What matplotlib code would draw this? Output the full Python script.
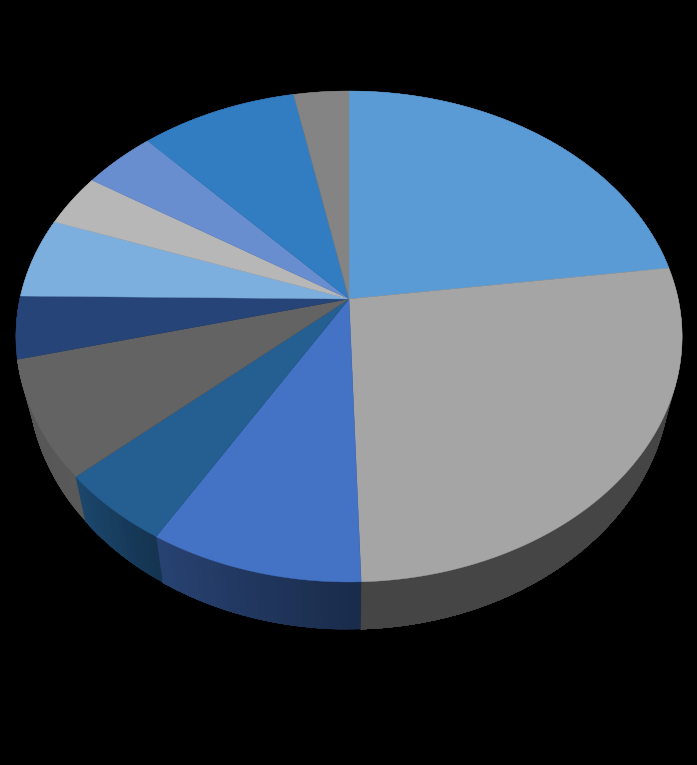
import numpy as np
import matplotlib
matplotlib.use("Agg")
import matplotlib.pyplot as plt
from matplotlib.colors import to_rgb

# Slice shares (percent), clockwise from 12 o'clock
shares = [22.9, 26.6, 9.0, 4.9, 7.7, 4.1, 5.3, 3.5, 4.1, 8.8, 3.1]
colors = ["#5B9BD5", "#A5A5A5", "#4472C4", "#255E91", "#636363", "#264478",
          "#7CAFDD", "#B7B7B7", "#698ED0", "#327DC2", "#848484"]

# Wall shading (start, end of each slice, clockwise)
shade = {"#A5A5A5": (0.42, 0.42), "#4472C4": (0.38, 0.58), "#255E91": (0.55, 0.75),
         "#636363": (0.90, 0.85), "#264478": (0.80, 0.75)}

W, H = 697, 765
fig = plt.figure(figsize=(W / 100, H / 100), dpi=100, facecolor="black")
ax = fig.add_axes([0, 0, 1, 1], facecolor="black")
ax.set_xlim(0, W)
ax.set_ylim(H, 0)
ax.axis("off")

# Perspective view of the pie's top disc
CX, CY, A, B, C = 349.0, 299.0, 329.2, -194.1, 0.1527
# Lower rim: the same disc scaled horizontally and moved down
SX, SY, DY = 0.965, 1.03, 30.0


def top(theta):
    u, v = np.sin(theta), np.cos(theta)
    w = 1 + C * v
    return CX + A * u / w, (B * v + CY) / w


def rim(theta):
    x, y = top(theta)
    return CX + SX * (x - CX), SY * y + DY


total = sum(shares)
edges = np.radians(np.concatenate([[0], np.cumsum(shares)]) / total * 360)

# Side walls: each band runs on to the end of the slice, so later bands paint
# over it and no seams appear between them
for i, col in enumerate(colors):
    t0, t1 = edges[i], edges[i + 1]
    f0, f1 = shade.get(col, (0.5, 0.5))
    n = max(int((t1 - t0) * 60), 2)
    ts = np.linspace(t0, t1, n + 1)
    rgb = np.array(to_rgb(col))
    for k in range(n):
        seg = np.linspace(ts[k], t1, 40)
        xt, yt = top(seg)
        xb, yb = rim(seg)
        f = f0 + (f1 - f0) * (k + 0.5) / n
        ax.fill(np.r_[xt, xb[::-1]], np.r_[yt, yb[::-1]], color=tuple(rgb * f),
                lw=0, zorder=2 + i * 0.01 + k * 1e-4)

# Top face
for i, col in enumerate(colors):
    ts = np.linspace(edges[i], edges[i + 1], 200)
    xs, ys = top(ts)
    ax.fill(np.r_[CX, xs], np.r_[CY, ys], color=col, lw=0.3, zorder=3 + i * 0.01)

fig.savefig("out.png", dpi=100, facecolor="black")
